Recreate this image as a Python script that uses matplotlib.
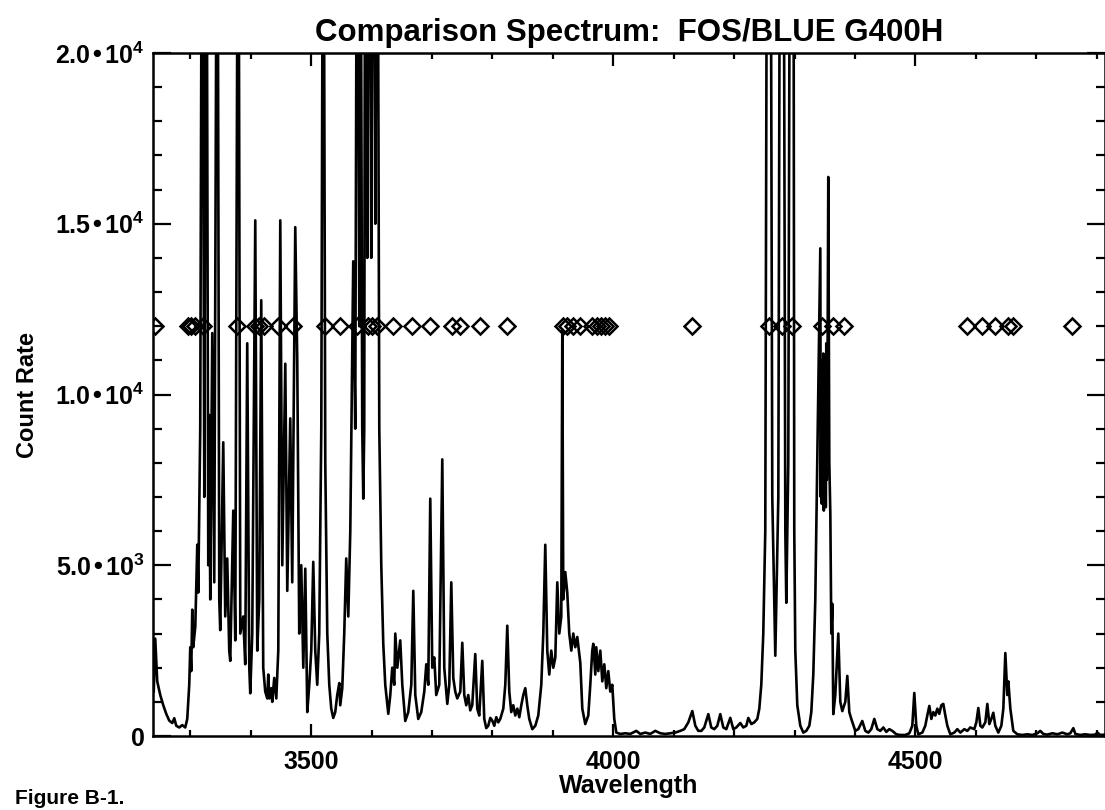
import numpy as np
import matplotlib.pyplot as plt
from matplotlib.ticker import MultipleLocator, FixedLocator

plt.rcParams['font.family'] = ['Liberation Sans', 'DejaVu Sans']
plt.rcParams['font.weight'] = 'bold'
plt.rcParams['mathtext.default'] = 'regular'

# spectrum trace (wavelength in A, count rate)
wavelength = [
    3239.2, 3241.7, 3245.0, 3250.0, 3255.0, 3259.9, 3264.9, 3269.9, 3273.2, 3276.5,
    3281.5, 3286.4, 3291.4, 3294.7, 3298.0, 3299.7, 3301.3, 3303.0, 3304.6, 3308.0,
    3311.3, 3312.9, 3316.2, 3319.5, 3322.9, 3326.2, 3329.5, 3331.1, 3332.8, 3336.1,
    3339.4, 3344.4, 3347.7, 3349.3, 3354.3, 3357.6, 3360.9, 3364.2, 3365.9, 3370.9,
    3374.2, 3379.1, 3382.5, 3387.4, 3390.7, 3394.0, 3397.4, 3399.0, 3402.3, 3407.3,
    3410.6, 3413.9, 3417.2, 3420.5, 3423.8, 3427.2, 3428.8, 3430.5, 3433.8, 3435.4,
    3438.7, 3442.1, 3445.4, 3448.7, 3452.0, 3457.0, 3460.3, 3465.2, 3468.5, 3473.5,
    3476.8, 3480.1, 3483.4, 3486.8, 3490.1, 3493.4, 3496.7, 3500.0, 3503.3, 3506.6,
    3509.9, 3513.2, 3516.6, 3519.9, 3523.2, 3526.5, 3529.8, 3533.1, 3536.4, 3539.7,
    3543.0, 3546.4, 3548.0, 3551.3, 3554.6, 3557.9, 3561.3, 3564.6, 3569.5, 3572.8,
    3576.2, 3579.5, 3581.1, 3584.4, 3586.1, 3587.7, 3589.4, 3592.7, 3596.0, 3599.3,
    3602.6, 3606.0, 3609.3, 3612.6, 3615.9, 3619.2, 3622.5, 3627.5, 3630.8, 3634.1,
    3637.4, 3639.1, 3642.4, 3647.3, 3650.7, 3655.6, 3660.6, 3665.6, 3668.9, 3672.2,
    3677.1, 3682.1, 3687.1, 3690.4, 3693.7, 3697.0, 3700.3, 3703.6, 3706.9, 3711.9,
    3716.9, 3720.2, 3725.2, 3728.5, 3731.8, 3735.1, 3738.4, 3741.7, 3746.7, 3750.0,
    3753.3, 3756.6, 3759.9, 3763.2, 3766.5, 3771.5, 3774.8, 3778.1, 3783.1, 3786.4,
    3789.7, 3793.0, 3796.4, 3799.7, 3803.0, 3806.3, 3809.6, 3812.9, 3817.9, 3821.2,
    3824.5, 3827.8, 3831.1, 3834.4, 3837.7, 3841.1, 3844.4, 3847.7, 3851.0, 3854.3,
    3857.6, 3860.9, 3865.9, 3870.9, 3875.8, 3880.8, 3884.1, 3887.4, 3890.7, 3894.0,
    3897.3, 3900.7, 3904.0, 3907.3, 3910.6, 3913.9, 3915.6, 3917.2, 3920.5, 3923.8,
    3927.1, 3930.5, 3933.8, 3937.1, 3940.4, 3945.4, 3948.7, 3953.6, 3958.6, 3961.9,
    3965.2, 3966.9, 3970.2, 3971.8, 3975.2, 3978.5, 3981.8, 3985.1, 3988.4, 3991.7,
    3995.0, 3998.3, 4001.6, 4005.0, 4011.6, 4019.9, 4028.1, 4038.1, 4044.7, 4053.0,
    4061.2, 4069.5, 4077.8, 4086.1, 4094.4, 4102.6, 4110.9, 4117.5, 4124.2, 4130.8,
    4135.8, 4140.7, 4145.7, 4150.6, 4157.3, 4162.2, 4167.2, 4172.2, 4177.1, 4182.1,
    4187.1, 4193.7, 4198.7, 4203.6, 4210.3, 4215.2, 4220.2, 4223.5, 4228.5, 4233.4,
    4238.4, 4241.7, 4245.0, 4248.3, 4251.6, 4255.0, 4259.9, 4263.2, 4268.2, 4273.2,
    4276.5, 4281.4, 4284.8, 4286.4, 4289.7, 4293.0, 4298.0, 4299.6, 4301.3, 4304.6,
    4309.6, 4314.6, 4319.5, 4324.5, 4327.8, 4331.1, 4334.4, 4337.7, 4339.4, 4342.7,
    4343.5, 4344.4, 4345.2, 4346.0, 4346.8, 4347.7, 4348.5, 4349.3, 4350.1, 4351.0,
    4351.8, 4352.6, 4353.4, 4354.3, 4355.9, 4357.6, 4359.3,
    4360.9, 4362.6, 4364.2, 4367.5, 4372.5, 4375.8, 4379.1, 4384.1, 4387.4, 4390.7,
    4394.0, 4400.6, 4405.6, 4412.2, 4417.2, 4422.2, 4427.1, 4432.1, 4437.1, 4442.0,
    4447.0, 4452.0, 4456.9, 4461.9, 4468.5, 4475.1, 4483.4, 4490.1, 4495.0, 4498.3,
    4501.6, 4504.9, 4511.6, 4516.5, 4519.8, 4523.2, 4526.5, 4529.8, 4533.1, 4536.4,
    4539.7, 4543.0, 4546.3, 4549.7, 4553.0, 4557.9, 4564.6, 4569.5, 4574.5, 4581.1,
    4586.1, 4591.0, 4597.6, 4601.0, 4604.3, 4607.6, 4610.9, 4615.9, 4619.2, 4622.5,
    4625.8, 4629.1, 4632.4, 4637.4, 4642.4, 4645.7, 4649.0, 4652.3, 4654.0, 4657.3,
    4662.2, 4668.9, 4677.1, 4685.4, 4693.7, 4702.0, 4706.9, 4711.9, 4718.5, 4726.8,
    4735.1, 4743.4, 4751.6, 4756.6, 4761.6, 4764.9, 4773.2, 4781.4, 4789.7, 4798.0,
    4801.3, 4806.3, 4812.9,
]
count_rate = [
    1300, 2850, 1600, 1200, 900, 650, 450, 380, 520, 300,
    250, 320, 250, 500, 1500, 2600, 1900, 3700, 2600, 3200,
    5600, 4200, 9000, 30000, 7000, 30000, 5000, 9400, 4000, 11800,
    4500, 30000, 4000, 3100, 8600, 3500, 5200, 2500, 2200, 6600,
    2800, 30000, 3000, 3500, 2100, 11500, 2000, 1250, 3000, 15100,
    2500, 4000, 12760, 2000, 1300, 1100, 1800, 1100, 1400, 1000,
    1700, 1100, 2500, 15100, 5000, 10900, 4250, 9300, 4500, 14900,
    11000, 3000, 5000, 2000, 4900, 700, 1500, 2500, 5100, 2500,
    1500, 3000, 9000, 30000, 8000, 3000, 1500, 800, 530, 700,
    1200, 1550, 900, 1400, 3000, 5200, 3500, 6000, 13900, 9000,
    30000, 12000, 30000, 9000, 6950, 9000, 30000, 14000, 30000, 14000,
    30000, 15000, 30000, 9000, 5000, 2700, 1500, 650, 1200, 2000,
    1500, 3000, 2000, 2800, 1500, 440, 700, 1500, 4250, 1200,
    500, 700, 1300, 2100, 1500, 6950, 2000, 2300, 1200, 1500,
    8100, 2000, 940, 1500, 4500, 1700, 1300, 1100, 1300, 2730,
    1200, 900, 1200, 750, 900, 2400, 800, 600, 2200, 500,
    230, 300, 530, 450, 300, 550, 400, 500, 800, 1500,
    3230, 1300, 700, 900, 600, 800, 550, 900, 1200, 1400,
    900, 500, 200, 300, 600, 1500, 3000, 5600, 2500, 1800,
    2500, 2000, 2300, 4500, 3000, 3500, 11900, 4000, 4800, 4200,
    3000, 2500, 3000, 2600, 2900, 2140, 800, 350, 600, 1500,
    2500, 2700, 1800, 2600, 1900, 2500, 1600, 2100, 1400, 1900,
    1300, 1500, 500, 100, 60, 80, 60, 150, 60, 100,
    60, 150, 80, 60, 80, 100, 150, 200, 400, 730,
    300, 150, 150, 250, 640, 250, 200, 300, 640, 250,
    200, 530, 200, 250, 380, 250, 300, 530, 350, 400,
    500, 800, 1500, 3000, 6000, 30000, 30000, 7000, 2350, 7000,
    30000, 30000, 6000, 3900, 8000, 30000, 30000, 6000, 2500, 900,
    300, 100, 150, 300, 700, 1800, 4000, 8000, 10000, 14280,
    7000, 11000, 6800, 10500, 7200, 11200, 6600, 10800, 7000, 11000,
    6700, 11500, 7500, 9000, 16370, 8000, 6500,
    3000, 3870, 640, 1200, 3000, 1000, 730, 1000, 1760, 700,
    500, 150, 200, 440, 150, 100, 200, 500, 200, 150,
    250, 120, 200, 150, 50, 30, 30, 80, 300, 1260,
    300, 50, 100, 300, 600, 880, 500, 700, 600, 800,
    650, 900, 940, 600, 300, 50, 100, 200, 100, 200,
    150, 250, 200, 400, 820, 300, 250, 400, 940, 350,
    500, 680, 300, 100, 300, 800, 2430, 1200, 1600, 800,
    150, 50, 30, 50, 30, 80, 150, 60, 40, 80,
    50, 100, 50, 80, 230, 60, 30, 50, 30, 40,
    100, 30, 40,
]

# identified lines, all marked at 12000
line_ids = [
    3242, 3296, 3301, 3308, 3320, 3377, 3407, 3414, 3421, 3445,
    3470, 3523, 3548, 3575, 3594, 3601, 3608, 3636, 3667, 3697,
    3733, 3747, 3780, 3824, 3916, 3924, 3934, 3945, 3965, 3973,
    3980, 3987, 3993, 4131, 4257, 4280, 4296, 4346, 4363, 4382,
    4586, 4611, 4632, 4654, 4661, 4760,
]
id_level = 12000

yticks = [0, 5000, 10000, 15000, 20000]
ytick_labels = ['0', '5.0•10$^3$', '1.0•10$^4$', '1.5•10$^4$', '2.0•10$^4$']

fig = plt.figure(figsize=(11.05, 8.10), dpi=100)
ax = fig.add_axes([153/1105, 1-736/810, 952/1105, 683/810])

ax.plot(wavelength, count_rate, color='black', lw=1.9)
ax.plot(line_ids, [id_level]*len(line_ids), ls='none', marker='D', ms=8.5,
        mfc='none', mec='black', mew=1.8)

ax.set_xlim(3238, 4814)
ax.set_ylim(0, 20000)

ax.xaxis.set_major_locator(FixedLocator([3500, 4000, 4500]))
ax.xaxis.set_minor_locator(MultipleLocator(100))
ax.set_yticks(yticks)
ax.set_yticklabels(ytick_labels)
ax.yaxis.set_minor_locator(MultipleLocator(1000))

ax.tick_params(axis='both', which='both', direction='in', top=True, right=True,
               width=1.6, color='black', labelsize=18)
ax.tick_params(axis='x', which='major', length=9, pad=10)
ax.tick_params(axis='x', which='minor', length=4.5)
ax.tick_params(axis='y', which='major', length=13, pad=6)
ax.tick_params(axis='y', which='minor', length=6.5)

for s in ax.spines.values():
    s.set_linewidth(1.8)

ax.set_title('Comparison Spectrum:  FOS/BLUE G400H', fontsize=22.5, pad=9,
             fontweight='bold')
ax.set_xlabel('Wavelength', fontsize=18, labelpad=0, fontweight='bold')
ax.set_ylabel('Count Rate', fontsize=17, labelpad=12, fontweight='bold')

fig.text(15/1105, 2/810, 'Figure B-1.', fontsize=15, va='bottom', ha='left',
         fontweight='bold')

fig.savefig('out.png', dpi=100)
